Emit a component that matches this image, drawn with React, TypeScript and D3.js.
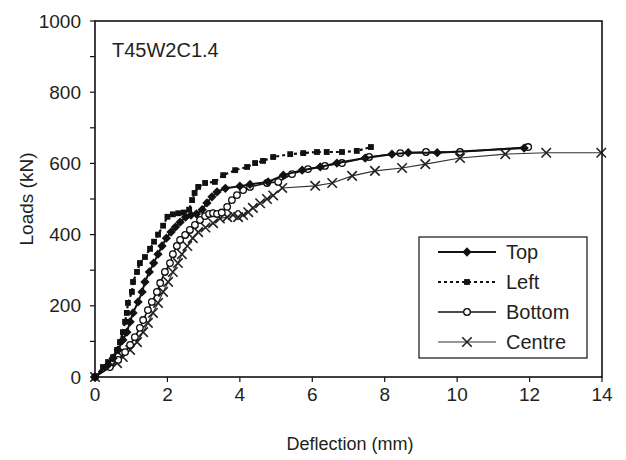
import React from 'react';
import * as d3 from 'd3';

// deflection (mm) / load (kN)
const topDefl = [0, 0.36, 0.5, 0.64, 0.77, 0.88, 0.97, 1.05, 1.19, 1.3, 1.38, 1.5, 1.62, 1.74, 1.85, 1.97, 2.1, 2.22, 2.35, 2.5, 2.65, 2.8, 2.96, 3.09, 3.23, 3.37, 3.6, 4.0, 4.28, 4.78, 5.2, 5.72, 6.22, 6.68, 7.46, 8.2, 8.65, 9.45, 11.85];
const topLoad = [0, 34, 53, 76, 104, 126, 155, 180, 211, 239, 267, 295, 320, 345, 368, 390, 407, 421, 435, 449, 455, 458, 470, 489, 506, 520, 530, 536, 541, 548, 567, 581, 590, 601, 615, 626, 630, 630, 643];

const leftDefl = [0, 0.22, 0.36, 0.5, 0.61, 0.69, 0.77, 0.83, 0.88, 0.91, 1.02, 1.05, 1.16, 1.24, 1.38, 1.52, 1.63, 1.74, 1.88, 2.0, 2.15, 2.3, 2.45, 2.6, 2.68, 2.75, 2.85, 3.04, 3.31, 3.54, 3.87, 4.2, 4.42, 4.64, 4.92, 5.39, 5.75, 6.13, 6.4, 6.82, 7.23, 7.62];
const leftLoad = [0, 28, 42, 56, 76, 98, 126, 155, 180, 208, 239, 267, 295, 320, 337, 360, 380, 400, 425, 450, 457, 460, 462, 470, 497, 517, 534, 545, 548, 567, 581, 590, 601, 607, 618, 626, 629, 632, 632, 632, 635, 646];

const bottomDefl = [0, 0.41, 0.64, 0.83, 0.97, 1.1, 1.24, 1.33, 1.46, 1.57, 1.71, 1.8, 1.93, 2.07, 2.15, 2.26, 2.35, 2.49, 2.62, 2.76, 2.9, 3.04, 3.15, 3.26, 3.37, 3.5, 3.65, 3.78, 3.92, 4.09, 4.28, 4.75, 5.06, 5.44, 5.88, 6.35, 6.82, 7.57, 8.43, 9.14, 10.08, 11.96];
const bottomLoad = [0, 28, 48, 70, 90, 112, 138, 160, 188, 211, 239, 264, 295, 320, 345, 368, 385, 399, 413, 427, 441, 452, 458, 460, 458, 462, 478, 497, 511, 525, 534, 545, 548, 570, 584, 593, 601, 618, 629, 632, 632, 646];

const centreDefl = [0, 0.61, 0.77, 0.97, 1.16, 1.33, 1.46, 1.6, 1.74, 1.88, 2.02, 2.15, 2.29, 2.4, 2.55, 2.7, 2.85, 3.05, 3.26, 3.45, 3.65, 3.81, 3.95, 4.09, 4.23, 4.36, 4.56, 4.75, 4.92, 5.17, 6.08, 6.55, 7.1, 7.73, 8.48, 9.12, 10.08, 11.33, 12.46, 13.98];
const centreLoad = [0, 39, 56, 76, 98, 126, 152, 180, 208, 239, 267, 295, 320, 345, 368, 390, 407, 420, 432, 445, 449, 455, 449, 455, 463, 475, 488, 500, 510, 531, 537, 545, 565, 579, 587, 598, 615, 626, 630, 630];

const xTicks = [0, 2, 4, 6, 8, 10, 12, 14];
const yTicks = [0, 200, 400, 600, 800, 1000];
const yMinor = [100, 300, 500, 700, 900];
const seriesNames = ['Top', 'Left', 'Bottom', 'Centre'];

const W = 626, H = 460;
const M = { left: 95, right: 602, top: 21, bottom: 377 };
const FONT = 'Liberation Sans, Arial, sans-serif';
const INK = '#231f20';

type Pt = [number, number];
const zip = (a: number[], b: number[]): Pt[] => a.map((v, i) => [v, b[i]]);

const series = [
  { name: 'Top', pts: zip(topDefl, topLoad), stroke: '#111', width: 2, dash: null, sym: d3.symbolDiamond2, size: 55, fill: '#111' },
  { name: 'Left', pts: zip(leftDefl, leftLoad), stroke: '#111', width: 2.2, dash: '3,3', sym: d3.symbolSquare, size: 34, fill: '#111' },
  { name: 'Bottom', pts: zip(bottomDefl, bottomLoad), stroke: '#111', width: 1.6, dash: null, sym: d3.symbolCircle, size: 34, fill: '#fff' },
  { name: 'Centre', pts: zip(centreDefl, centreLoad), stroke: '#333', width: 1.1, dash: null, sym: d3.symbolTimes, size: 60, fill: 'none' },
];

const App = () => {
  const x = d3.scaleLinear().domain([0, 14]).range([M.left, M.right]);
  const y = d3.scaleLinear().domain([0, 1000]).range([M.bottom, M.top]);
  const line = d3.line<Pt>().x(d => x(d[0])).y(d => y(d[1]));

  const marker = (s: typeof series[number], cx: number, cy: number, k: string | number) => (
    <path
      key={k}
      d={d3.symbol(s.sym, s.size)() || ''}
      transform={`translate(${cx},${cy})`}
      fill={s.fill}
      stroke={s.name === 'Bottom' ? '#111' : s.name === 'Centre' ? '#222' : 'none'}
      strokeWidth={s.name === 'Centre' ? 1.6 : 1.3}
    />
  );

  // draw order: centre underneath, top on top
  const order = [3, 2, 1, 0];
  const legendX = 419, legendY = 237, legendW = 168, legendH = 121;

  return (
    <svg width={W} height={H} style={{ position: 'absolute', left: 0, top: 0 }} fontFamily={FONT}>
      <rect width={W} height={H} fill="#fff" />
      {order.map(i => {
        const s = series[i];
        return (
          <g key={s.name}>
            <path d={line(s.pts) || ''} fill="none" stroke={s.stroke} strokeWidth={s.width}
              strokeDasharray={s.dash || undefined} />
            {s.pts.map((p, j) => marker(s, x(p[0]), y(p[1]), j))}
          </g>
        );
      })}
      {/* frame */}
      <rect x={M.left} y={M.top} width={M.right - M.left} height={M.bottom - M.top}
        fill="none" stroke="#111" strokeWidth={1.6} />
      {yTicks.map(t => (
        <g key={'y' + t}>
          <line x1={M.left - 5} x2={M.left} y1={y(t)} y2={y(t)} stroke="#111" strokeWidth={1.2} />
          <text x={M.left - 14} y={y(t)} dy="0.35em" textAnchor="end" fontSize={19} fill={INK}>{t}</text>
        </g>
      ))}
      {yMinor.map(t => (
        <line key={'ym' + t} x1={M.left - 5} x2={M.left} y1={y(t)} y2={y(t)} stroke="#111" strokeWidth={1.2} />
      ))}
      {xTicks.map(t => (
        <g key={'x' + t}>
          <line x1={x(t)} x2={x(t)} y1={M.bottom} y2={M.bottom + 5} stroke="#111" strokeWidth={1.2} />
          <text x={x(t)} y={M.bottom + 24} textAnchor="middle" fontSize={19} fill={INK}>{t}</text>
        </g>
      ))}
      <text x={350} y={450} textAnchor="middle" fontSize={18} fill={INK}>Deflection (mm)</text>
      <text transform={`translate(33,${(M.top + M.bottom) / 2}) rotate(-90)`} textAnchor="middle" fontSize={19} fill={INK}>Loads (kN)</text>
      <text x={112} y={57} fontSize={20} fill={INK}>T45W2C1.4</text>

      {/* legend */}
      <rect x={legendX} y={legendY} width={legendW} height={legendH} fill="#fff" stroke="#111" strokeWidth={1.2} />
      {seriesNames.map((n, i) => {
        const s = series[i];
        const ly = legendY + 15 + i * 30;
        return (
          <g key={'lg' + n}>
            <line x1={438} x2={496} y1={ly} y2={ly} stroke={s.stroke} strokeWidth={s.width}
              strokeDasharray={s.dash || undefined} />
            {marker(s, 467, ly, 'm')}
            <text x={506} y={ly} dy="0.36em" fontSize={20} fill={INK}>{n}</text>
          </g>
        );
      })}
    </svg>
  );
};

export default App;
